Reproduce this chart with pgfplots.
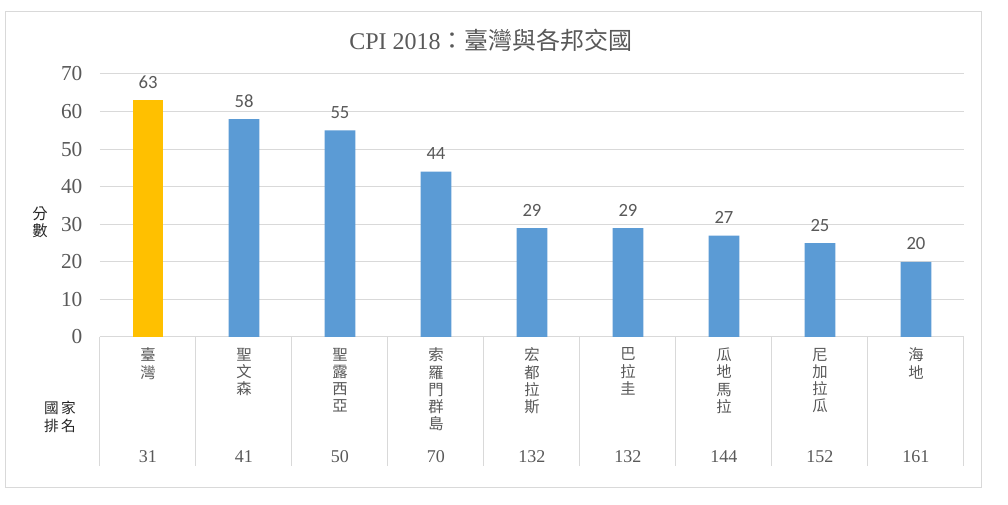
\documentclass[border=0pt]{standalone}
\usepackage{fontspec}
\usepackage{pgfplots}
\pgfplotsset{compat=1.18}
\setmainfont{Liberation Serif}
\newfontfamily\cjk{Noto Sans CJK TC}
\newfontfamily\calib{Carlito}
\definecolor{bblue}{HTML}{5B9BD5}
\definecolor{byellow}{HTML}{FFC000}
\definecolor{gridc}{HTML}{D9D9D9}
\definecolor{txt}{HTML}{595959}
\begin{document}
\begin{tikzpicture}
\path[fill=white] (0,0) rectangle (756pt,378.75pt);
\draw[gridc, line width=0.75pt] (3.75pt,369.75pt) rectangle (735.75pt,12.75pt);
\node[txt, font=\fontsize{18}{21}\selectfont] at (368.25pt,348.75pt) {CPI 2018{\cjk：臺灣與各邦交國}};
\begin{axis}[
  at={(75pt,126pt)}, anchor=south west,
  scale only axis, width=648pt, height=197.25pt,
  xmin=-0.5, xmax=8.5, ymin=0, ymax=70,
  ytick={0,10,...,70},
  xtick={0,...,8},
  xticklabels={臺\\灣, 聖\\文\\森, 聖\\露\\西\\亞, 索\\羅\\門\\群\\島, 宏\\都\\拉\\斯, 巴\\拉\\圭, 瓜\\地\\馬\\拉, 尼\\加\\拉\\瓜, 海\\地},
  xticklabel style={font=\cjk\fontsize{11.5}{12.9}\selectfont, text=txt, align=center, anchor=north, inner sep=0pt, yshift=-8pt},
  yticklabel style={font=\fontsize{16}{19}\selectfont, text=txt, inner sep=0pt, xshift=-13pt},
  /pgf/number format/assume math mode=true,
  major tick length=0pt,
  ymajorgrids, grid style={gridc, line width=0.75pt},
  axis x line*=bottom, axis y line*=left,
  x axis line style={gridc, line width=0.75pt, -},
  y axis line style={draw=none},
  clip=false,
  ybar, bar width=23pt,
  nodes near coords,
  every node near coord/.style={font=\calib\fontsize{14}{16}\selectfont, text=txt, anchor=center, yshift=13.5pt},
]
\addplot[fill=byellow, draw=none, bar shift=0pt] coordinates {(0,63)};
\addplot[fill=bblue, draw=none, bar shift=0pt] coordinates {(1,58) (2,55) (3,44) (4,29) (5,29) (6,27) (7,25) (8,20)};
\draw[gridc, line width=0.75pt] (axis cs:-0.5,0) -- (axis cs:-0.5,-34.3);
\draw[gridc, line width=0.75pt] (axis cs:0.5,0) -- (axis cs:0.5,-34.3);
\draw[gridc, line width=0.75pt] (axis cs:1.5,0) -- (axis cs:1.5,-34.3);
\draw[gridc, line width=0.75pt] (axis cs:2.5,0) -- (axis cs:2.5,-34.3);
\draw[gridc, line width=0.75pt] (axis cs:3.5,0) -- (axis cs:3.5,-34.3);
\draw[gridc, line width=0.75pt] (axis cs:4.5,0) -- (axis cs:4.5,-34.3);
\draw[gridc, line width=0.75pt] (axis cs:5.5,0) -- (axis cs:5.5,-34.3);
\draw[gridc, line width=0.75pt] (axis cs:6.5,0) -- (axis cs:6.5,-34.3);
\draw[gridc, line width=0.75pt] (axis cs:7.5,0) -- (axis cs:7.5,-34.3);
\draw[gridc, line width=0.75pt] (axis cs:8.5,0) -- (axis cs:8.5,-34.3);
\node[txt, anchor=base, font=\fontsize{13.5}{16}\selectfont] at (axis cs:0,-33.3) {31};
\node[txt, anchor=base, font=\fontsize{13.5}{16}\selectfont] at (axis cs:1,-33.3) {41};
\node[txt, anchor=base, font=\fontsize{13.5}{16}\selectfont] at (axis cs:2,-33.3) {50};
\node[txt, anchor=base, font=\fontsize{13.5}{16}\selectfont] at (axis cs:3,-33.3) {70};
\node[txt, anchor=base, font=\fontsize{13.5}{16}\selectfont] at (axis cs:4,-33.3) {132};
\node[txt, anchor=base, font=\fontsize{13.5}{16}\selectfont] at (axis cs:5,-33.3) {132};
\node[txt, anchor=base, font=\fontsize{13.5}{16}\selectfont] at (axis cs:6,-33.3) {144};
\node[txt, anchor=base, font=\fontsize{13.5}{16}\selectfont] at (axis cs:7,-33.3) {152};
\node[txt, anchor=base, font=\fontsize{13.5}{16}\selectfont] at (axis cs:8,-33.3) {161};
\node[black!85, font=\cjk\fontsize{11}{13.5}\selectfont, align=center] at (axis cs:-0.917,-21.3) {國\,家\\排\,名};
\node[black!85, font=\cjk\fontsize{11.5}{13}\selectfont, align=center] at (axis cs:-1.125,30.6) {分\\數};
\end{axis}
\end{tikzpicture}
\end{document}
